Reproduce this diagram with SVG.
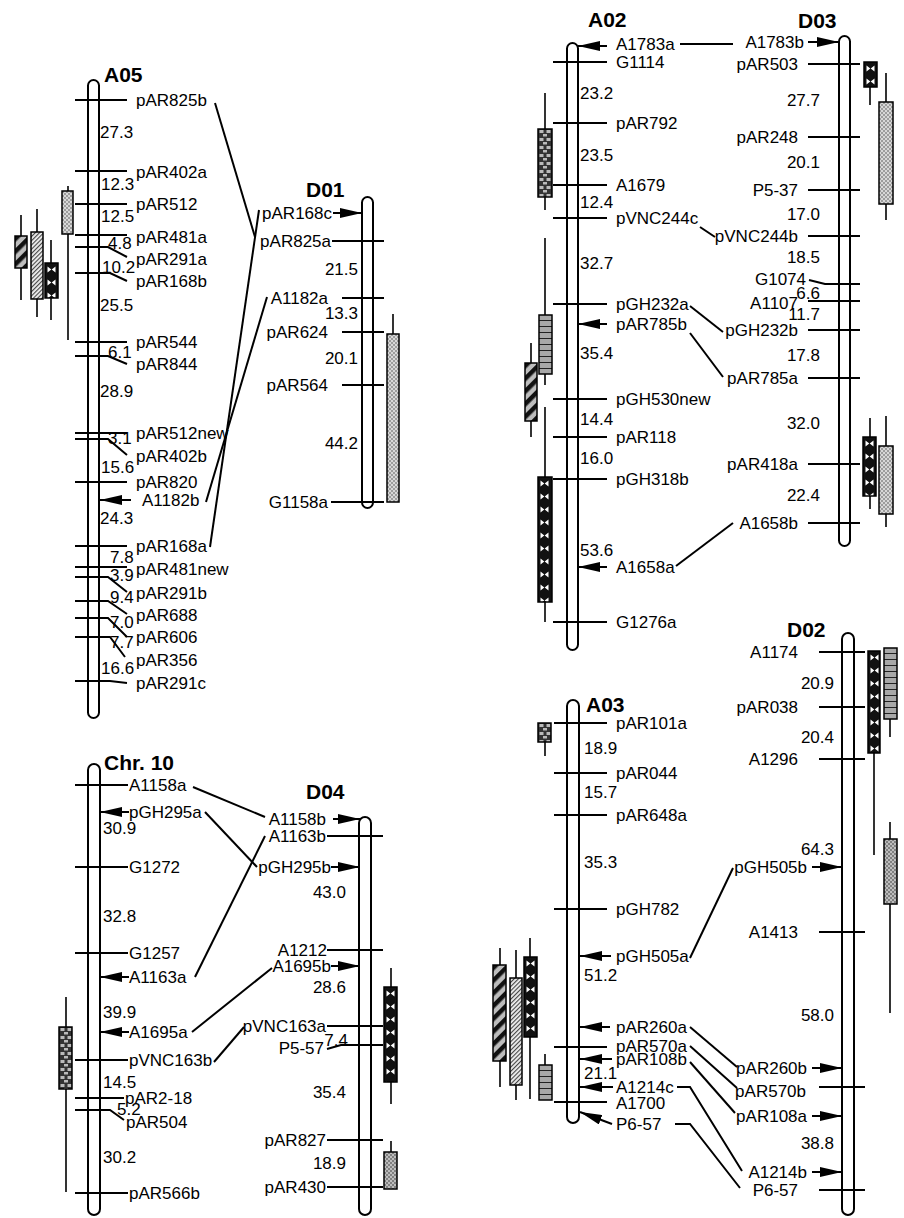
<svg xmlns="http://www.w3.org/2000/svg" width="904" height="1218" viewBox="0 0 904 1218">
<style>
.t{font-family:"Liberation Sans",Arial,sans-serif;font-size:17px;fill:#000}
.e{text-anchor:end}
.h{font-family:"Liberation Sans",Arial,sans-serif;font-size:21px;font-weight:bold;fill:#000}
.chr{fill:#fff;stroke:#000;stroke-width:2}
.k{stroke:#000;stroke-width:2;fill:none}
.w{stroke:#000;stroke-width:1.6}
.b{stroke:#000;stroke-width:1.5}
</style>
<defs>
<marker id="ah" markerWidth="22" markerHeight="10" refX="22" refY="5" orient="auto" markerUnits="userSpaceOnUse"><path d="M0,0 L22,5 L0,10 Z" fill="#000"/></marker>
<pattern id="pStip" width="4" height="4" patternUnits="userSpaceOnUse"><rect width="4" height="4" fill="#d8d8d8"/><circle cx="1" cy="1" r="0.75" fill="#444"/><circle cx="3" cy="3" r="0.75" fill="#444"/></pattern>
<pattern id="pStip2" width="4" height="4" patternUnits="userSpaceOnUse"><rect width="4" height="4" fill="#bdbdbd"/><circle cx="1" cy="1" r="0.8" fill="#333"/><circle cx="3" cy="3" r="0.8" fill="#333"/></pattern>
<pattern id="pDiag" width="9" height="9" patternUnits="userSpaceOnUse" patternTransform="rotate(45)"><rect width="9" height="9" fill="#bdbdbd"/><rect width="4.5" height="9" fill="#111"/></pattern>
<pattern id="pFine" width="3" height="3" patternUnits="userSpaceOnUse" patternTransform="rotate(45)"><rect width="3" height="3" fill="#eee"/><rect width="1.1" height="3" fill="#444"/></pattern>
<pattern id="pX" width="13" height="13" patternUnits="userSpaceOnUse"><rect width="13" height="13" fill="#111"/><path d="M2.5,3.5 L6.3,6.5 L2.5,9.5Z M10.5,3.5 L6.7,6.5 L10.5,9.5Z" fill="#fff"/></pattern>
<pattern id="pChk" width="14" height="8" patternUnits="userSpaceOnUse"><rect width="14" height="8" fill="#333"/><rect x="1.5" y="1" width="4" height="3" fill="#bbb"/><rect x="8.5" y="1" width="4" height="3" fill="#bbb"/><rect x="5" y="5" width="4" height="2.5" fill="#bbb"/></pattern>
<pattern id="pH" width="14" height="6" patternUnits="userSpaceOnUse"><rect width="14" height="6" fill="#a8a8a8"/><rect y="5" width="14" height="1" fill="#222"/></pattern>
</defs>
<rect width="904" height="1218" fill="#fff"/>

<g id="A05">
<g transform="translate(62,191)"><line class="w" x1="6" y1="-5" x2="6" y2="149"/><rect class="b" width="11" height="43" fill="url(#pStip)"/></g>
<g transform="translate(15,236)"><line class="w" x1="6" y1="-21" x2="6" y2="64"/><rect class="b" width="12" height="32" fill="url(#pDiag)"/></g>
<g transform="translate(31,232)"><line class="w" x1="6" y1="-23" x2="6" y2="85"/><rect class="b" width="12" height="67" fill="url(#pFine)"/></g>
<g transform="translate(45,263)"><line class="w" x1="6" y1="-23" x2="6" y2="57"/><rect class="b" width="13" height="35" fill="url(#pX)"/></g>
<rect class="chr" x="88" y="80" width="11" height="638" rx="5.5"/>
<text class="h" x="104" y="82">A05</text>
<g class="k">
<line x1="75" y1="100" x2="127" y2="100"/>
<line x1="75" y1="171" x2="127" y2="171"/>
<line x1="75" y1="204" x2="127" y2="204"/>
<line x1="75" y1="235" x2="127" y2="235"/>
<polyline points="75,247 108,247 127,257"/>
<polyline points="75,273 110,273 127,281"/>
<line x1="75" y1="342" x2="127" y2="342"/>
<polyline points="75,356 108,356 127,364"/>
<line x1="75" y1="433" x2="127" y2="433"/>
<polyline points="75,439 108,439 127,455"/>
<line x1="75" y1="482" x2="127" y2="482"/>
<line x1="131" y1="500" x2="100" y2="500" marker-end="url(#ah)"/>
<line x1="75" y1="546" x2="127" y2="546"/>
<line x1="75" y1="567" x2="127" y2="567"/>
<polyline points="75,577 108,577 127,592"/>
<polyline points="75,601 108,601 127,614"/>
<polyline points="75,618 108,618 127,637"/>
<polyline points="75,637 110,637 125,657"/>
<polyline points="75,681 110,681 127,683"/>
</g>
<text class="t" x="136" y="106">pAR825b</text>
<text class="t" x="136" y="178">pAR402a</text>
<text class="t" x="136" y="210">pAR512</text>
<text class="t" x="136" y="243">pAR481a</text>
<text class="t" x="136" y="265">pAR291a</text>
<text class="t" x="136" y="287">pAR168b</text>
<text class="t" x="136" y="348">pAR544</text>
<text class="t" x="136" y="370">pAR844</text>
<text class="t" x="136" y="439">pAR512new</text>
<text class="t" x="136" y="462">pAR402b</text>
<text class="t" x="136" y="488">pAR820</text>
<text class="t" x="142" y="506">A1182b</text>
<text class="t" x="136" y="552">pAR168a</text>
<text class="t" x="136" y="575">pAR481new</text>
<text class="t" x="136" y="599">pAR291b</text>
<text class="t" x="136" y="621">pAR688</text>
<text class="t" x="136" y="643">pAR606</text>
<text class="t" x="136" y="666">pAR356</text>
<text class="t" x="136" y="689">pAR291c</text>
<text class="t" x="100" y="138">27.3</text>
<text class="t" x="101" y="190">12.3</text>
<text class="t" x="101" y="222">12.5</text>
<text class="t" x="108" y="249">4.8</text>
<text class="t" x="102" y="273">10.2</text>
<text class="t" x="100" y="311">25.5</text>
<text class="t" x="108" y="358">6.1</text>
<text class="t" x="100" y="397">28.9</text>
<text class="t" x="108" y="444">3.1</text>
<text class="t" x="101" y="473">15.6</text>
<text class="t" x="100" y="524">24.3</text>
<text class="t" x="110" y="563">7.8</text>
<text class="t" x="110" y="581">3.9</text>
<text class="t" x="110" y="603">9.4</text>
<text class="t" x="110" y="628">7.0</text>
<text class="t" x="110" y="648">7.7</text>
<text class="t" x="101" y="674">16.6</text>
</g>

<g id="D01">
<g transform="translate(387,334)"><line class="w" x1="6" y1="-20" x2="6" y2="0"/><rect class="b" width="12" height="168" fill="url(#pStip)"/></g>
<rect class="chr" x="362" y="197" width="11" height="311" rx="5.5"/>
<text class="h" x="306" y="197">D01</text>
<g class="k">
<line x1="333" y1="213" x2="362" y2="213" marker-end="url(#ah)"/>
<line x1="332" y1="241" x2="384" y2="241"/>
<line x1="342" y1="298" x2="384" y2="298"/>
<line x1="342" y1="332" x2="384" y2="332"/>
<line x1="342" y1="385" x2="384" y2="385"/>
<line x1="331" y1="502" x2="384" y2="502"/>
</g>
<text class="t e" x="332" y="219">pAR168c</text>
<text class="t e" x="331" y="247">pAR825a</text>
<text class="t e" x="328" y="304">A1182a</text>
<text class="t e" x="328" y="338">pAR624</text>
<text class="t e" x="328" y="391">pAR564</text>
<text class="t e" x="328" y="508">G1158a</text>
<text class="t e" x="358" y="275">21.5</text>
<text class="t e" x="358" y="319">13.3</text>
<text class="t e" x="358" y="364">20.1</text>
<text class="t e" x="358" y="449">44.2</text>
</g>

<g id="A02">
<g transform="translate(538,129)"><line class="w" x1="7" y1="-36" x2="7" y2="81"/><rect class="b" width="14" height="68" fill="url(#pChk)"/></g>
<g transform="translate(539,315)"><line class="w" x1="6" y1="-77" x2="6" y2="70"/><rect class="b" width="13" height="59" fill="url(#pH)"/></g>
<g transform="translate(525,363)"><line class="w" x1="6" y1="-20" x2="6" y2="74"/><rect class="b" width="12" height="58" fill="url(#pDiag)"/></g>
<g transform="translate(538,477)"><line class="w" x1="7" y1="-70" x2="7" y2="145"/><rect class="b" width="14" height="125" fill="url(#pX)"/></g>
<rect class="chr" x="567" y="43" width="11" height="607" rx="5.5"/>
<text class="h" x="588" y="27">A02</text>
<g class="k">
<line x1="607" y1="46" x2="578" y2="46" marker-end="url(#ah)"/>
<line x1="553" y1="62" x2="607" y2="62"/>
<line x1="553" y1="123" x2="607" y2="123"/>
<line x1="553" y1="185" x2="607" y2="185"/>
<line x1="553" y1="218" x2="607" y2="218"/>
<line x1="553" y1="304" x2="607" y2="304"/>
<line x1="607" y1="324" x2="578" y2="324" marker-end="url(#ah)"/>
<line x1="553" y1="399" x2="607" y2="399"/>
<line x1="553" y1="437" x2="607" y2="437"/>
<line x1="553" y1="479" x2="607" y2="479"/>
<line x1="607" y1="567" x2="578" y2="567" marker-end="url(#ah)"/>
<line x1="553" y1="622" x2="607" y2="622"/>
</g>
<text class="t" x="616" y="50">A1783a</text>
<text class="t" x="616" y="68">G1114</text>
<text class="t" x="616" y="129">pAR792</text>
<text class="t" x="616" y="191">A1679</text>
<text class="t" x="616" y="224">pVNC244c</text>
<text class="t" x="616" y="310">pGH232a</text>
<text class="t" x="616" y="330">pAR785b</text>
<text class="t" x="616" y="405">pGH530new</text>
<text class="t" x="616" y="443">pAR118</text>
<text class="t" x="616" y="485">pGH318b</text>
<text class="t" x="616" y="573">A1658a</text>
<text class="t" x="616" y="628">G1276a</text>
<text class="t" x="580" y="99">23.2</text>
<text class="t" x="580" y="161">23.5</text>
<text class="t" x="580" y="208">12.4</text>
<text class="t" x="580" y="269">32.7</text>
<text class="t" x="580" y="359">35.4</text>
<text class="t" x="580" y="425">14.4</text>
<text class="t" x="580" y="464">16.0</text>
<text class="t" x="580" y="556">53.6</text>
</g>

<g id="D03">
<g transform="translate(864,62)"><line class="w" x1="6" y1="0" x2="6" y2="43"/><rect class="b" width="13" height="25" fill="url(#pX)"/></g>
<g transform="translate(879,102)"><line class="w" x1="7" y1="-29" x2="7" y2="118"/><rect class="b" width="14" height="102" fill="url(#pStip)"/></g>
<g transform="translate(863,437)"><line class="w" x1="7" y1="-19" x2="7" y2="72"/><rect class="b" width="13" height="59" fill="url(#pX)"/></g>
<g transform="translate(879,446)"><line class="w" x1="7" y1="-30" x2="7" y2="81"/><rect class="b" width="14" height="68" fill="url(#pStip)"/></g>
<rect class="chr" x="839" y="36" width="11" height="510" rx="5.5"/>
<text class="h" x="798" y="28">D03</text>
<g class="k">
<line x1="808" y1="42" x2="839" y2="42" marker-end="url(#ah)"/>
<line x1="808" y1="64" x2="860" y2="64"/>
<line x1="808" y1="137" x2="860" y2="137"/>
<line x1="808" y1="190" x2="860" y2="190"/>
<line x1="808" y1="236" x2="860" y2="236"/>
<polyline points="809,280 825,284 860,284"/>
<line x1="808" y1="301" x2="860" y2="301"/>
<line x1="808" y1="330" x2="860" y2="330"/>
<line x1="808" y1="378" x2="860" y2="378"/>
<line x1="808" y1="464" x2="860" y2="464"/>
<line x1="808" y1="523" x2="860" y2="523"/>
</g>
<text class="t e" x="804" y="48">A1783b</text>
<text class="t e" x="798" y="70">pAR503</text>
<text class="t e" x="798" y="143">pAR248</text>
<text class="t e" x="798" y="196">P5-37</text>
<text class="t e" x="798" y="242">pVNC244b</text>
<text class="t e" x="806" y="285">G1074</text>
<text class="t e" x="798" y="309">A1107</text>
<text class="t e" x="798" y="336">pGH232b</text>
<text class="t e" x="798" y="384">pAR785a</text>
<text class="t e" x="798" y="470">pAR418a</text>
<text class="t e" x="798" y="529">A1658b</text>
<text class="t e" x="820" y="106">27.7</text>
<text class="t e" x="820" y="168">20.1</text>
<text class="t e" x="820" y="220">17.0</text>
<text class="t e" x="820" y="263">18.5</text>
<text class="t e" x="820" y="299">6.6</text>
<text class="t e" x="820" y="320">11.7</text>
<text class="t e" x="820" y="361">17.8</text>
<text class="t e" x="820" y="429">32.0</text>
<text class="t e" x="820" y="501">22.4</text>
</g>

<g id="A03">
<g transform="translate(538,723)"><line class="w" x1="7" y1="19" x2="7" y2="33"/><rect class="b" width="13" height="19" fill="url(#pChk)"/></g>
<g transform="translate(493,965)"><line class="w" x1="7" y1="-17" x2="7" y2="122"/><rect class="b" width="13" height="96" fill="url(#pDiag)"/></g>
<g transform="translate(510,978)"><line class="w" x1="6" y1="-28" x2="6" y2="122"/><rect class="b" width="12" height="107" fill="url(#pFine)"/></g>
<g transform="translate(524,957)"><line class="w" x1="6" y1="-19" x2="6" y2="142"/><rect class="b" width="13" height="80" fill="url(#pX)"/></g>
<g transform="translate(539,1065)"><line class="w" x1="6" y1="-11" x2="6" y2="0"/><rect class="b" width="13" height="35" fill="url(#pH)"/></g>
<rect class="chr" x="567" y="700" width="12" height="423" rx="6"/>
<text class="h" x="586" y="712">A03</text>
<g class="k">
<line x1="554" y1="723" x2="607" y2="723"/>
<line x1="554" y1="773" x2="607" y2="773"/>
<line x1="554" y1="815" x2="607" y2="815"/>
<line x1="554" y1="909" x2="607" y2="909"/>
<line x1="611" y1="956" x2="580" y2="956" marker-end="url(#ah)"/>
<line x1="610" y1="1027" x2="580" y2="1027" marker-end="url(#ah)"/>
<line x1="554" y1="1047" x2="607" y2="1047"/>
<line x1="612" y1="1059" x2="580" y2="1059" marker-end="url(#ah)"/>
<line x1="613" y1="1087" x2="580" y2="1087" marker-end="url(#ah)"/>
<line x1="554" y1="1102" x2="607" y2="1102"/>
<line x1="612" y1="1124" x2="580" y2="1112" marker-end="url(#ah)"/>
</g>
<text class="t" x="616" y="729">pAR101a</text>
<text class="t" x="616" y="779">pAR044</text>
<text class="t" x="616" y="821">pAR648a</text>
<text class="t" x="616" y="915">pGH782</text>
<text class="t" x="616" y="962">pGH505a</text>
<text class="t" x="616" y="1033">pAR260a</text>
<text class="t" x="616" y="1052">pAR570a</text>
<text class="t" x="616" y="1065">pAR108b</text>
<text class="t" x="616" y="1093">A1214c</text>
<text class="t" x="616" y="1109">A1700</text>
<text class="t" x="616" y="1130">P6-57</text>
<text class="t" x="584" y="754">18.9</text>
<text class="t" x="584" y="798">15.7</text>
<text class="t" x="584" y="868">35.3</text>
<text class="t" x="584" y="981">51.2</text>
<text class="t" x="584" y="1079">21.1</text>
</g>

<g id="D02">
<g transform="translate(868,651)"><line class="w" x1="6" y1="0" x2="6" y2="204"/><rect class="b" width="12" height="102" fill="url(#pX)"/></g>
<g transform="translate(884,648)"><line class="w" x1="6" y1="0" x2="6" y2="89"/><rect class="b" width="13" height="71" fill="url(#pH)"/></g>
<g transform="translate(884,839)"><line class="w" x1="6" y1="-17" x2="6" y2="174"/><rect class="b" width="13" height="65" fill="url(#pStip2)"/></g>
<rect class="chr" x="842" y="633" width="12" height="582" rx="6"/>
<text class="h" x="787" y="637">D02</text>
<g class="k">
<line x1="819" y1="652" x2="865" y2="652"/>
<line x1="819" y1="707" x2="865" y2="707"/>
<line x1="819" y1="759" x2="865" y2="759"/>
<line x1="812" y1="867" x2="842" y2="867" marker-end="url(#ah)"/>
<line x1="819" y1="932" x2="865" y2="932"/>
<line x1="812" y1="1068" x2="842" y2="1068" marker-end="url(#ah)"/>
<line x1="819" y1="1087" x2="865" y2="1087"/>
<line x1="812" y1="1116" x2="842" y2="1116" marker-end="url(#ah)"/>
<line x1="812" y1="1172" x2="842" y2="1172" marker-end="url(#ah)"/>
<line x1="819" y1="1190" x2="865" y2="1190"/>
</g>
<text class="t e" x="798" y="658">A1174</text>
<text class="t e" x="798" y="713">pAR038</text>
<text class="t e" x="798" y="765">A1296</text>
<text class="t e" x="807" y="873">pGH505b</text>
<text class="t e" x="798" y="938">A1413</text>
<text class="t e" x="807" y="1074">pAR260b</text>
<text class="t e" x="806" y="1097">pAR570b</text>
<text class="t e" x="807" y="1122">pAR108a</text>
<text class="t e" x="807" y="1178">A1214b</text>
<text class="t e" x="798" y="1196">P6-57</text>
<text class="t e" x="834" y="689">20.9</text>
<text class="t e" x="834" y="743">20.4</text>
<text class="t e" x="834" y="855">64.3</text>
<text class="t e" x="834" y="1021">58.0</text>
<text class="t e" x="834" y="1149">38.8</text>
</g>

<g id="Chr10">
<g transform="translate(59,1027)"><line class="w" x1="7" y1="-30" x2="7" y2="165"/><rect class="b" width="13" height="62" fill="url(#pChk)"/></g>
<rect class="chr" x="88" y="764" width="12" height="451" rx="6"/>
<text class="h" x="104" y="770">Chr. 10</text>
<g class="k">
<line x1="75" y1="785" x2="128" y2="785"/>
<line x1="129" y1="812" x2="100" y2="812" marker-end="url(#ah)"/>
<line x1="75" y1="867" x2="128" y2="867"/>
<line x1="75" y1="953" x2="128" y2="953"/>
<line x1="129" y1="977" x2="100" y2="977" marker-end="url(#ah)"/>
<line x1="129" y1="1032" x2="100" y2="1032" marker-end="url(#ah)"/>
<line x1="75" y1="1060" x2="128" y2="1060"/>
<line x1="75" y1="1098" x2="124" y2="1098"/>
<polyline points="75,1110 110,1110 124,1120"/>
<line x1="75" y1="1193" x2="128" y2="1193"/>
</g>
<text class="t" x="129" y="791">A1158a</text>
<text class="t" x="129" y="818">pGH295a</text>
<text class="t" x="129" y="873">G1272</text>
<text class="t" x="129" y="959">G1257</text>
<text class="t" x="129" y="983">A1163a</text>
<text class="t" x="129" y="1038">A1695a</text>
<text class="t" x="129" y="1066">pVNC163b</text>
<text class="t" x="125" y="1104">pAR2-18</text>
<text class="t" x="126" y="1128">pAR504</text>
<text class="t" x="129" y="1199">pAR566b</text>
<text class="t" x="103" y="834">30.9</text>
<text class="t" x="103" y="922">32.8</text>
<text class="t" x="103" y="1018">39.9</text>
<text class="t" x="103" y="1088">14.5</text>
<text class="t" x="117" y="1115">5.2</text>
<text class="t" x="103" y="1163">30.2</text>
</g>

<g id="D04">
<g transform="translate(384,987)"><line class="w" x1="7" y1="-19" x2="7" y2="117"/><rect class="b" width="13" height="95" fill="url(#pX)"/></g>
<g transform="translate(384,1152)"><line class="w" x1="7" y1="-11" x2="7" y2="0"/><rect class="b" width="13" height="37" fill="url(#pStip2)"/></g>
<rect class="chr" x="359" y="817" width="12" height="398" rx="6"/>
<text class="h" x="306" y="799">D04</text>
<g class="k">
<line x1="333" y1="819" x2="360" y2="819" marker-end="url(#ah)"/>
<line x1="327" y1="836" x2="383" y2="836"/>
<line x1="331" y1="867" x2="360" y2="867" marker-end="url(#ah)"/>
<line x1="327" y1="950" x2="383" y2="950"/>
<line x1="331" y1="966" x2="360" y2="966" marker-end="url(#ah)"/>
<line x1="327" y1="1026" x2="383" y2="1026"/>
<polyline points="327,1049 341,1045 383,1045"/>
<line x1="327" y1="1140" x2="383" y2="1140"/>
<line x1="327" y1="1187" x2="383" y2="1187"/>
</g>
<text class="t e" x="326" y="825">A1158b</text>
<text class="t e" x="326" y="842">A1163b</text>
<text class="t e" x="331" y="873">pGH295b</text>
<text class="t e" x="327" y="956">A1212</text>
<text class="t e" x="331" y="972">A1695b</text>
<text class="t e" x="326" y="1032">pVNC163a</text>
<text class="t e" x="324" y="1054">P5-57</text>
<text class="t e" x="326" y="1146">pAR827</text>
<text class="t e" x="326" y="1193">pAR430</text>
<text class="t e" x="346" y="898">43.0</text>
<text class="t e" x="346" y="993">28.6</text>
<text class="t e" x="348" y="1046">7.4</text>
<text class="t e" x="346" y="1098">35.4</text>
<text class="t e" x="346" y="1169">18.9</text>
</g>

<g id="connectors" class="k">
<line x1="215" y1="103" x2="255" y2="237"/>
<line x1="259" y1="210" x2="210" y2="547"/>
<line x1="267" y1="297" x2="206" y2="502"/>
<line x1="680" y1="44" x2="733" y2="44"/>
<line x1="700" y1="227" x2="715" y2="237"/>
<line x1="690" y1="306" x2="723" y2="332"/>
<line x1="690" y1="333" x2="723" y2="377"/>
<line x1="676" y1="566" x2="733" y2="523"/>
<line x1="193" y1="787" x2="265" y2="817"/>
<line x1="205" y1="812" x2="257" y2="867"/>
<line x1="195" y1="977" x2="265" y2="836"/>
<line x1="192" y1="1032" x2="272" y2="968"/>
<line x1="214" y1="1062" x2="244" y2="1027"/>
<line x1="690" y1="958" x2="733" y2="868"/>
<line x1="690" y1="1027" x2="737" y2="1067"/>
<line x1="690" y1="1046" x2="737" y2="1088"/>
<line x1="690" y1="1062" x2="735" y2="1113"/>
<polyline points="677,1087 690,1087 742,1171"/>
<polyline points="675,1124 690,1124 740,1188"/>
</g>
</svg>
